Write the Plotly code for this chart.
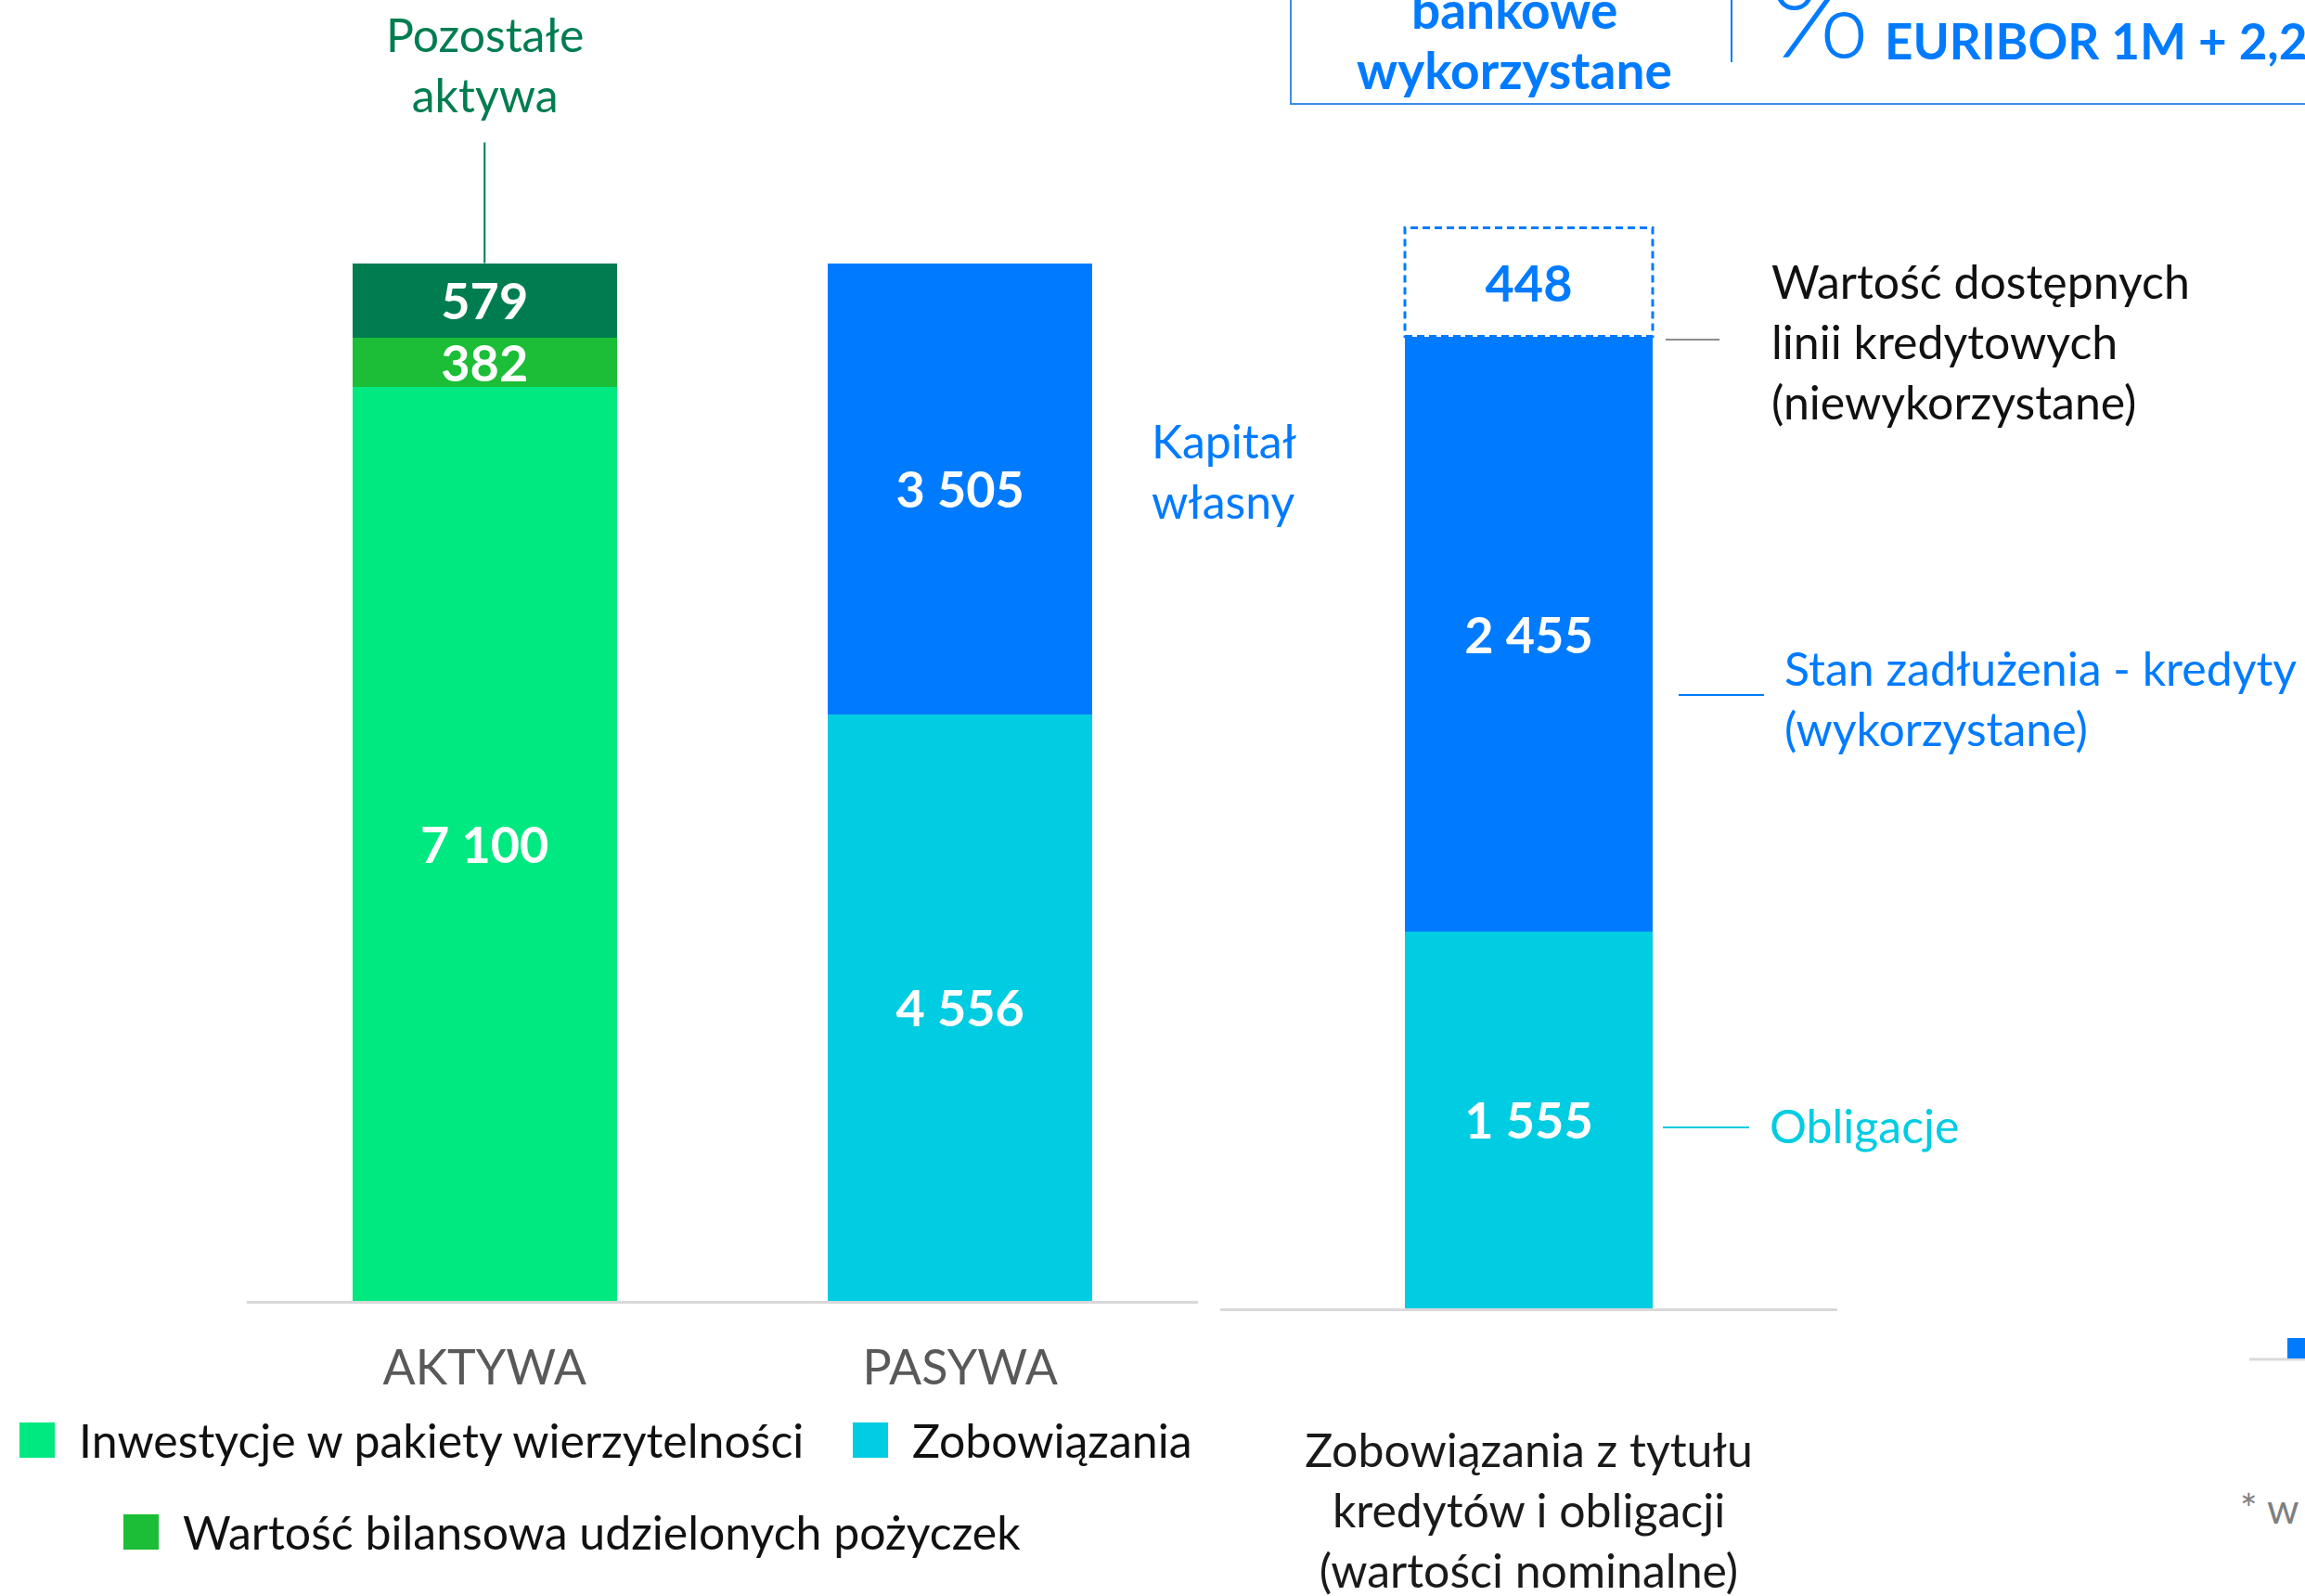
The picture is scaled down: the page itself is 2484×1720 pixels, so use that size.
import plotly.graph_objects as go

W, H = 2484, 1720
FONT = "Lato"

# ---------------- data ----------------
balance_categories = ["AKTYWA", "PASYWA"]
inwestycje = [7100, None]          # Inwestycje w pakiety wierzytelności
pozyczki = [382, None]             # Wartość bilansowa udzielonych pożyczek
pozostale_aktywa = [579, None]     # Pozostałe aktywa
zobowiazania = [None, 4556]        # Zobowiązania
kapital_wlasny = [None, 3505]      # Kapitał własny

debt_category = ["Zobowiązania z tytułu<br>kredytów i obligacji<br>(wartości nominalne)"]
obligacje = [1555]
kredyty_wykorzystane = [2455]
linie_niewykorzystane = [448]

series_names = {
    "inw": "Inwestycje w pakiety wierzytelności",
    "poz": "Wartość bilansowa udzielonych pożyczek",
    "pozost": "Pozostałe aktywa",
    "zob": "Zobowiązania",
    "kap": "Kapitał własny",
    "obl": "Obligacje",
    "kred": "Stan zadłużenia - kredyty (wykorzystane)",
    "linie": "Wartość dostępnych linii kredytowych (niewykorzystane)",
}

# ---------------- styles ----------------
C_GREEN = "#00E880"
C_MID = "#1BBE36"
C_DARK = "#007D50"
C_BLUE = "#007BFF"
C_CYAN = "#00CCE2"
C_AXIS = "#D9D9D9"


def fmt(v):
    return "" if v is None else f"{v:,}".replace(",", " ")


def px(x):
    return x / W


def py(y):
    return 1 - y / H


fig = go.Figure()


def add_bar(name, x, y, color, xa, ya, width, textcolor="white"):
    fig.add_trace(go.Bar(
        name=name, x=x, y=y, width=width,
        marker=dict(color=color, line=dict(width=0)),
        text=[fmt(v) for v in y], textposition="inside", insidetextanchor="middle",
        textangle=0, constraintext="none", cliponaxis=False,
        textfont=dict(family=FONT, size=54, color=textcolor, weight="bold"),
        xaxis=xa, yaxis=ya, showlegend=False, hoverinfo="skip"))


LEFT_W = 0.556
RIGHT_W = 0.4015
add_bar(series_names["inw"], balance_categories, inwestycje, C_GREEN, "x", "y", LEFT_W)
add_bar(series_names["poz"], balance_categories, pozyczki, C_MID, "x", "y", LEFT_W)
add_bar(series_names["pozost"], balance_categories, pozostale_aktywa, C_DARK, "x", "y", LEFT_W)
add_bar(series_names["zob"], balance_categories, zobowiazania, C_CYAN, "x", "y", LEFT_W)
add_bar(series_names["kap"], balance_categories, kapital_wlasny, C_BLUE, "x", "y", LEFT_W)

add_bar(series_names["obl"], debt_category, obligacje, C_CYAN, "x2", "y2", RIGHT_W)
add_bar(series_names["kred"], debt_category, kredyty_wykorzystane, C_BLUE, "x2", "y2", RIGHT_W)
add_bar(series_names["linie"], debt_category, linie_niewykorzystane, "white", "x2", "y2", RIGHT_W,
        textcolor=C_BLUE)

total_left = inwestycje[0] + pozyczki[0] + pozostale_aktywa[0]
total_right = obligacje[0] + kredyty_wykorzystane[0] + linie_niewykorzystane[0]

LEFT_BASE, LEFT_TOP = 1402, 283.6
RIGHT_BASE, RIGHT_TOP = 1410, 245.5
top_left = total_left * LEFT_BASE / (LEFT_BASE - LEFT_TOP)
top_right = total_right * RIGHT_BASE / (RIGHT_BASE - RIGHT_TOP)

fig.update_layout(
    width=W, height=H, margin=dict(l=0, r=0, t=0, b=0, autoexpand=False),
    paper_bgcolor="white", plot_bgcolor="white", barmode="stack", showlegend=False,
    font=dict(family=FONT, color="#1a1a1a"),
    xaxis=dict(domain=[px(266), px(1291)], range=[-0.5, 1.5], type="category", anchor="y",
               showline=True, linecolor=C_AXIS, linewidth=3, showgrid=False, zeroline=False,
               ticks="", ticklabelstandoff=25, automargin=False,
               tickfont=dict(family=FONT, size=52, color="#595959")),
    yaxis=dict(domain=[py(LEFT_BASE), 1], range=[0, top_left], visible=False, anchor="x",
               automargin=False),
    xaxis2=dict(domain=[px(1315), px(1980)], range=[-0.5, 0.5], type="category", anchor="y2",
                showline=True, linecolor=C_AXIS, linewidth=3, showgrid=False, zeroline=False,
                ticks="", ticklabelstandoff=108, automargin=False,
                tickfont=dict(family=FONT, size=50, color="#1a1a1a")),
    yaxis2=dict(domain=[py(RIGHT_BASE), 1], range=[0, top_right], visible=False, anchor="x2",
                automargin=False),
)

# dashed outline around the unused credit lines segment
base_linie = obligacje[0] + kredyty_wykorzystane[0]
fig.add_shape(type="rect", xref="x2", yref="y2",
              x0=-RIGHT_W / 2, x1=RIGHT_W / 2, y0=base_linie, y1=base_linie + linie_niewykorzystane[0],
              line=dict(color=C_BLUE, width=3, dash="8px,5px"), fillcolor="rgba(0,0,0,0)", layer="above")

ann = []
# Pozostałe aktywa with leader line
ann.append(dict(x=balance_categories[0], y=total_left, xref="x", yref="y",
                text="Pozostałe<br>aktywa", showarrow=True, ax=0, ay=-214,
                arrowhead=0, arrowwidth=2, arrowcolor=C_DARK, startstandoff=20,
                font=dict(family=FONT, size=50, color=C_DARK)))
# Kapitał własny
ann.append(dict(x=px(1239), y=py(508), xref="paper", yref="paper", xanchor="left", yanchor="middle",
                text="Kapitał<br>własny", showarrow=False, align="left",
                font=dict(family=FONT, size=50, color=C_BLUE)))
# right side labels
ann.append(dict(x=px(1907), y=py(368), xref="paper", yref="paper", xanchor="left", yanchor="middle",
                text="Wartość dostępnych<br>linii kredytowych<br>(niewykorzystane)", showarrow=False,
                align="left", font=dict(family=FONT, size=50, color="#111111")))
ann.append(dict(x=px(1921), y=py(752), xref="paper", yref="paper", xanchor="left", yanchor="middle",
                text="Stan zadłużenia - kredyty<br>(wykorzystane)", showarrow=False,
                align="left", font=dict(family=FONT, size=50, color=C_BLUE)))
ann.append(dict(x=px(1905), y=py(1213), xref="paper", yref="paper", xanchor="left", yanchor="middle",
                text="Obligacje", showarrow=False,
                align="left", font=dict(family=FONT, size=50, color=C_CYAN)))

shapes_lines = [
    (1795, 1853, 366, "#8C8C8C"),
    (1809, 1901, 749, C_BLUE),
    (1792, 1885, 1215, C_CYAN),
]
for x0, x1, yy, col in shapes_lines:
    fig.add_shape(type="line", xref="paper", yref="paper", x0=px(x0), x1=px(x1), y0=py(yy), y1=py(yy),
                  line=dict(color=col, width=2))

# custom legend (large square swatches)
legend_items = [
    (series_names["inw"], C_GREEN, 21, 1552),
    (series_names["zob"], C_CYAN, 919, 1552),
    (series_names["poz"], C_MID, 133, 1651),
]
for name, col, mx, my in legend_items:
    fig.add_shape(type="rect", xref="paper", yref="paper", x0=px(mx), x1=px(mx + 38),
                  y0=py(my + 19), y1=py(my - 19), line=dict(width=0), fillcolor=col)
    ann.append(dict(x=px(mx + 62), y=py(my), xref="paper", yref="paper", xanchor="left",
                    yanchor="middle", text=name, showarrow=False,
                    font=dict(family=FONT, size=50, color="#111111")))

# header box (partially visible)
fig.add_shape(type="rect", xref="paper", yref="paper", x0=px(1391), x1=1.02, y0=py(112), y1=1.02,
              line=dict(color="#3D8DEB", width=2), fillcolor="rgba(0,0,0,0)")
fig.add_shape(type="line", xref="paper", yref="paper", x0=px(1866), x1=px(1866), y0=py(67), y1=1.01,
              line=dict(color=C_BLUE, width=2))
ann.append(dict(x=px(1632), y=py(10), xref="paper", yref="paper", xanchor="center", yanchor="middle",
                text="bankowe", showarrow=False, font=dict(family=FONT, size=55, color=C_BLUE, weight="bold")))
ann.append(dict(x=px(1632), y=py(75), xref="paper", yref="paper", xanchor="center", yanchor="middle",
                text="wykorzystane", showarrow=False, font=dict(family=FONT, size=55, color=C_BLUE, weight="bold")))
ann.append(dict(x=px(1904), y=py(8), xref="paper", yref="paper", xanchor="left", yanchor="middle",
                text="%", showarrow=False, font=dict(family=FONT, size=140, color=C_BLUE, weight=300)))
ann.append(dict(x=px(2029), y=py(43), xref="paper", yref="paper", xanchor="left", yanchor="middle",
                text="EURIBOR 1M + 2,2-3,5 p.p.", showarrow=False,
                font=dict(family=FONT, size=53, color=C_BLUE, weight="bold")))

# fragment of neighbouring chart at bottom right
fig.add_shape(type="line", xref="paper", yref="paper", x0=px(2424), x1=1.01, y0=py(1465), y1=py(1465),
              line=dict(color=C_AXIS, width=3))
fig.add_shape(type="rect", xref="paper", yref="paper", x0=px(2465), x1=1.01, y0=py(1464), y1=py(1442),
              line=dict(width=0), fillcolor=C_BLUE)
ann.append(dict(x=px(2412), y=py(1625), xref="paper", yref="paper", xanchor="left", yanchor="middle",
                text="* w", showarrow=False, font=dict(family=FONT, size=44, color="#7F7F7F")))

fig.update_layout(annotations=ann)

fig.write_html("out.html", config={"displayModeBar": False})
